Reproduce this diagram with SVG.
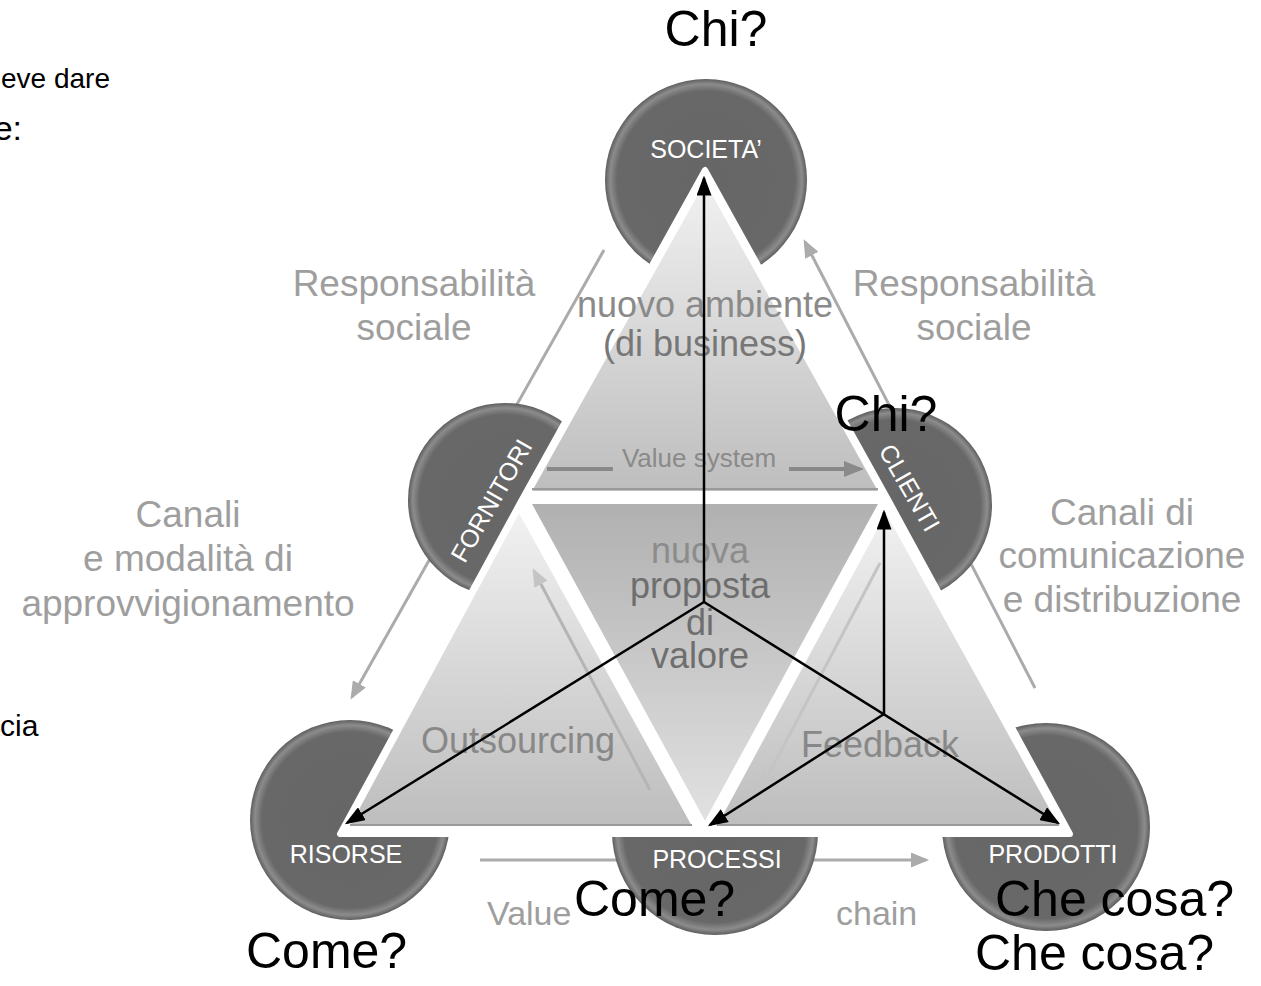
<svg xmlns="http://www.w3.org/2000/svg" width="1261" height="986" viewBox="0 0 1261 986">
<defs>
<style>
text{font-family:"Liberation Sans",Arial,sans-serif}
.lbl{fill:#9e9e9e;font-size:37px;text-anchor:middle}
.blk{fill:#000;font-size:50px}
.nl{fill:#fff;font-size:25px;text-anchor:middle}
.tri{stroke:#fff;stroke-width:6;stroke-linejoin:round}
.ga{stroke:#ababab;stroke-width:3;fill:none}
.ba{stroke:#000;stroke-width:2.5;fill:none;marker-end:url(#mb)}
.inner{fill:#7d7d7d;font-size:36px;text-anchor:middle}
</style>
<marker id="mb" markerWidth="8" markerHeight="6" refX="7" refY="3" orient="auto" markerUnits="strokeWidth"><path d="M0,0L8,3L0,6z" fill="#000"/></marker>
<marker id="mg" markerWidth="6" markerHeight="5" refX="5" refY="2.5" orient="auto" markerUnits="strokeWidth"><path d="M0,0L6,2.5L0,5z" fill="#ababab"/></marker>
<marker id="mg2" markerWidth="5" markerHeight="4" refX="4" refY="2" orient="auto" markerUnits="strokeWidth"><path d="M0,0L5,2L0,4z" fill="#8a8a8a"/></marker>
<marker id="mg3" markerWidth="6" markerHeight="5" refX="5" refY="2.5" orient="auto" markerUnits="strokeWidth"><path d="M0,0L6,2.5L0,5z" fill="#c4c4c4"/></marker>
<radialGradient id="gc" cx="0.5" cy="0.5" r="0.5">
<stop offset="0" stop-color="#666"/>
<stop offset="0.88" stop-color="#686868"/>
<stop offset="0.95" stop-color="#8c8c8c"/>
<stop offset="1" stop-color="#5e5e5e"/>
</radialGradient>
<linearGradient id="gt" x1="0" y1="0" x2="0" y2="1">
<stop offset="0" stop-color="#f2f2f2"/>
<stop offset="1" stop-color="#bdbdbd"/>
</linearGradient>
<linearGradient id="gm" x1="0" y1="0" x2="0" y2="1">
<stop offset="0" stop-color="#b0b0b0"/>
<stop offset="1" stop-color="#e2e2e2"/>
</linearGradient>
</defs>
<rect width="1261" height="986" fill="#fff"/>
<g id="side-texts">
<text x="110" y="88" font-size="28" text-anchor="end" fill="#000">eve dare</text>
<text x="22" y="140" font-size="34" text-anchor="end" fill="#000">e:</text>
<text x="0" y="736" font-size="30" fill="#000">cia</text>
</g>
<g id="connectors-back">
<line class="ga" x1="604" y1="250" x2="352" y2="697" marker-end="url(#mg)"/>
<line class="ga" x1="1035" y1="688" x2="805" y2="242" marker-end="url(#mg)"/>
<line class="ga" x1="480" y1="860" x2="926" y2="860" marker-end="url(#mg)"/>
</g>
<g id="node-societa"><circle cx="706" cy="180" r="101" fill="url(#gc)"/></g>
<g id="node-fornitori"><circle cx="505" cy="500" r="97" fill="url(#gc)"/></g>
<g id="node-clienti"><circle cx="895" cy="505" r="97" fill="url(#gc)"/></g>
<g id="node-risorse"><circle cx="350" cy="820" r="100" fill="url(#gc)"/></g>
<g id="node-processi"><circle cx="715" cy="832" r="103" fill="url(#gc)"/></g>
<g id="node-prodotti"><circle cx="1046" cy="827" r="104" fill="url(#gc)"/></g>
<g id="triangles">
<polygon points="705,170 520,503 340,834 1070,834 890,503" fill="#fff" stroke="#fff" stroke-width="6" stroke-linejoin="round"/>
<polygon id="tri-top" class="tri" points="705,176 527,494 883,494" fill="url(#gt)"/>
<polygon id="tri-left" class="tri" points="519,507 345,829 697,829" fill="url(#gt)"/>
<polygon id="tri-right" class="tri" points="886,507 712,829 1064,829" fill="url(#gt)"/>
<polygon id="tri-center" class="tri" points="527,501 883,501 705,827" fill="url(#gm)"/>
<g stroke="#9a9a9a" stroke-width="2">
<line x1="532" y1="489" x2="878" y2="489"/>
<line x1="350" y1="825" x2="692" y2="825"/>
<line x1="717" y1="825" x2="1059" y2="825"/>
</g>
</g>
<g id="node-labels">
<text class="nl" x="706" y="158" font-size="21">SOCIETA’</text>
<text class="nl" transform="translate(499,505) rotate(-60)">FORNITORI</text>
<text class="nl" transform="translate(902,492) rotate(60)">CLIENTI</text>
<text class="nl" x="346" y="863" font-size="26">RISORSE</text>
<text class="nl" x="717" y="868">PROCESSI</text>
<text class="nl" x="1053" y="863" font-size="26">PRODOTTI</text>
</g>
<g id="inner-connectors">
<line stroke="#888" stroke-width="4" x1="547" y1="469" x2="613" y2="469"/>
<line stroke="#888" stroke-width="4" x1="789" y1="469" x2="860" y2="469" marker-end="url(#mg2)"/>
<line stroke="#b5b5b5" stroke-width="3" x1="650" y1="790" x2="534" y2="571" marker-end="url(#mg3)"/>
<line stroke="#c4c4c4" stroke-width="3" x1="880" y1="563" x2="762" y2="787" marker-end="url(#mg3)"/>
</g>
<g id="labels">
<text class="lbl" x="414" y="296">Responsabilità</text>
<text class="lbl" x="414" y="340">sociale</text>
<text class="lbl" x="974" y="296">Responsabilità</text>
<text class="lbl" x="974" y="340">sociale</text>
<text class="lbl" x="188" y="527">Canali</text>
<text class="lbl" x="188" y="571">e modalità di</text>
<text class="lbl" x="188" y="616">approvvigionamento</text>
<text class="lbl" x="1122" y="525">Canali di</text>
<text class="lbl" x="1122" y="568">comunicazione</text>
<text class="lbl" x="1122" y="612">e distribuzione</text>
<text class="inner" x="705" y="317" style="fill:#8a8a8a">nuovo ambiente</text>
<text class="inner" x="705" y="356" style="fill:#777">(di business)</text>
<text x="699" y="467" font-size="26" fill="#8a8a8a" text-anchor="middle">Value system</text>
<text class="inner" x="700" y="563" style="fill:#8c8c8c">nuova</text>
<text class="inner" x="700" y="598" style="fill:#6e6e6e">proposta</text>
<text class="inner" x="700" y="635" style="fill:#6e6e6e">di</text>
<text class="inner" x="700" y="668" style="fill:#6e6e6e">valore</text>
<text class="inner" x="518" y="753" style="fill:#888">Outsourcing</text>
<text class="inner" x="880" y="757" style="fill:#888">Feedback</text>
<text x="487" y="925" font-size="34" fill="#9e9e9e">Value</text>
<text x="836" y="925" font-size="34" fill="#9e9e9e">chain</text>
</g>
<g id="connectors">
<line class="ba" x1="704" y1="602" x2="704" y2="178"/>
<line class="ba" x1="704" y1="602" x2="347" y2="823"/>
<line class="ba" x1="704" y1="602" x2="1058" y2="823"/>
<line class="ba" x1="884" y1="714" x2="884" y2="512"/>
<line class="ba" x1="884" y1="714" x2="710" y2="825"/>
</g>
<g id="questions">
<text class="blk" x="716" y="46" text-anchor="middle">Chi?</text>
<text class="blk" x="886" y="431" text-anchor="middle">Chi?</text>
<text class="blk" x="574" y="916">Come?</text>
<text class="blk" x="246" y="968">Come?</text>
<text class="blk" x="995" y="916">Che cosa?</text>
<text class="blk" x="975" y="970">Che cosa?</text>
</g>
</svg>
